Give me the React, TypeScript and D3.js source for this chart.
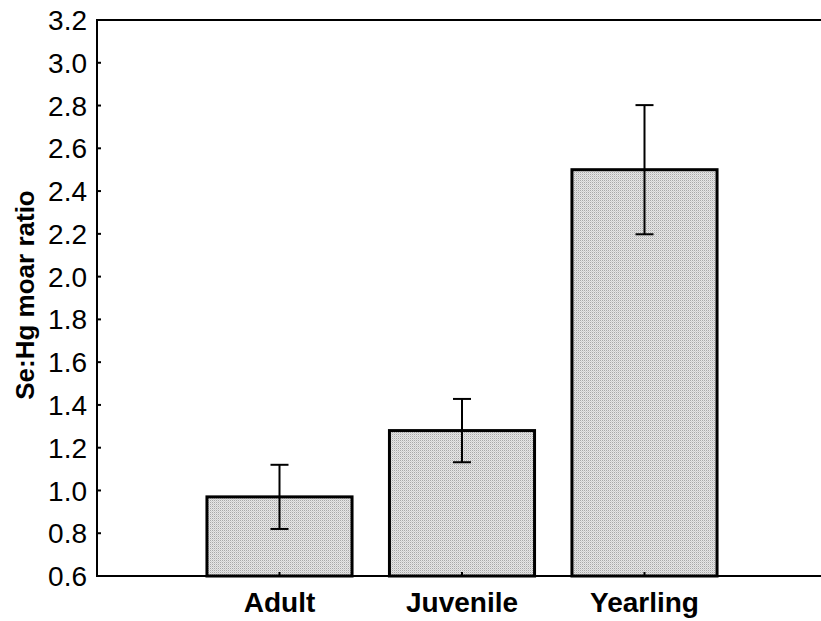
import { useEffect, useRef } from "react";
import * as d3 from "d3";

const categories = ["Adult", "Juvenile", "Yearling"];
const means = [0.97, 1.28, 2.5];
const errors = [0.15, 0.148, 0.302];
const yTicks = [0.6, 0.8, 1.0, 1.2, 1.4, 1.6, 1.8, 2.0, 2.2, 2.4, 2.6, 2.8, 3.0, 3.2];

export default function App() {
  const svgRef = useRef<SVGSVGElement>(null);

  useEffect(() => {
    const width = 821;
    const height = 621;
    const margin = { top: 20, left: 97, bottom: 45 };
    const font = "'Liberation Sans', Arial, sans-serif";

    const svg = d3.select(svgRef.current);
    svg.selectAll("*").remove();
    svg.attr("width", width).attr("height", height).style("background", "#fff");

    const defs = svg.append("defs");
    const pat = defs
      .append("pattern")
      .attr("id", "dots")
      .attr("width", 2)
      .attr("height", 2)
      .attr("patternUnits", "userSpaceOnUse");
    pat.append("rect").attr("width", 2).attr("height", 2).attr("fill", "#e6e6e6");
    pat.append("rect").attr("width", 1).attr("height", 1).attr("fill", "#a8a8a8");
    pat.append("rect").attr("x", 1).attr("y", 1).attr("width", 1).attr("height", 1).attr("fill", "#cfcfcf");

    const x = d3.scaleLinear().domain([0, 4]).range([margin.left, 827]);
    const y = d3
      .scaleLinear()
      .domain([0.6, 3.2])
      .range([height - margin.bottom, margin.top]);

    const barW = x(0.795) - x(0);

    // bars
    svg
      .selectAll("rect.bar")
      .data(means)
      .enter()
      .append("rect")
      .attr("class", "bar")
      .attr("x", (d, i) => x(i + 1) - barW / 2)
      .attr("y", (d) => y(d))
      .attr("width", barW)
      .attr("height", (d) => y(0.6) - y(d))
      .attr("fill", "url(#dots)")
      .attr("stroke", "#000")
      .attr("stroke-width", 3);

    // error bars
    const eb = svg.selectAll("g.err").data(means).enter().append("g").attr("class", "err");
    eb.append("line")
      .attr("x1", (d, i) => x(i + 1))
      .attr("x2", (d, i) => x(i + 1))
      .attr("y1", (d, i) => y(d + errors[i]))
      .attr("y2", (d, i) => y(d - errors[i]))
      .attr("stroke", "#000")
      .attr("stroke-width", 2);
    [1, -1].forEach((s) => {
      eb.append("line")
        .attr("x1", (d, i) => x(i + 1) - 9)
        .attr("x2", (d, i) => x(i + 1) + 9)
        .attr("y1", (d, i) => y(d + s * errors[i]))
        .attr("y2", (d, i) => y(d + s * errors[i]))
        .attr("stroke", "#000")
        .attr("stroke-width", 2);
    });

    // frame
    svg
      .append("path")
      .attr("d", `M${width},${y(3.2)}H${margin.left}V${y(0.6)}H${width}`)
      .attr("fill", "none")
      .attr("stroke", "#000")
      .attr("stroke-width", 2);

    // y ticks
    const yAxis = svg.append("g");
    yAxis
      .selectAll("line")
      .data(yTicks)
      .enter()
      .append("line")
      .attr("x1", margin.left)
      .attr("x2", margin.left + 4)
      .attr("y1", (d) => y(d))
      .attr("y2", (d) => y(d))
      .attr("stroke", "#000")
      .attr("stroke-width", 2);
    yAxis
      .selectAll("text")
      .data(yTicks)
      .enter()
      .append("text")
      .attr("x", margin.left - 10)
      .attr("y", (d) => y(d))
      .attr("dy", "0.36em")
      .attr("text-anchor", "end")
      .style("font-family", font)
      .style("font-size", "28px")
      .text((d) => d3.format(".1f")(d));

    // x ticks
    svg
      .selectAll("line.xt")
      .data(categories)
      .enter()
      .append("line")
      .attr("class", "xt")
      .attr("x1", (d, i) => x(i + 1))
      .attr("x2", (d, i) => x(i + 1))
      .attr("y1", y(0.6))
      .attr("y2", y(0.6) - 4)
      .attr("stroke", "#000")
      .attr("stroke-width", 2);
    svg
      .selectAll("text.xl")
      .data(categories)
      .enter()
      .append("text")
      .attr("class", "xl")
      .attr("x", (d, i) => x(i + 1))
      .attr("y", 612)
      .attr("text-anchor", "middle")
      .style("font-family", font)
      .style("font-size", "28px")
      .style("font-weight", "bold")
      .text((d) => d);

    svg
      .append("text")
      .attr("transform", `translate(34, 295) rotate(-90)`)
      .attr("text-anchor", "middle")
      .style("font-family", font)
      .style("font-size", "26px")
      .style("font-weight", "bold")
      .text("Se:Hg moar ratio");
  }, []);

  return <svg ref={svgRef} style={{ position: "absolute", left: 0, top: 0 }}></svg>;
}
